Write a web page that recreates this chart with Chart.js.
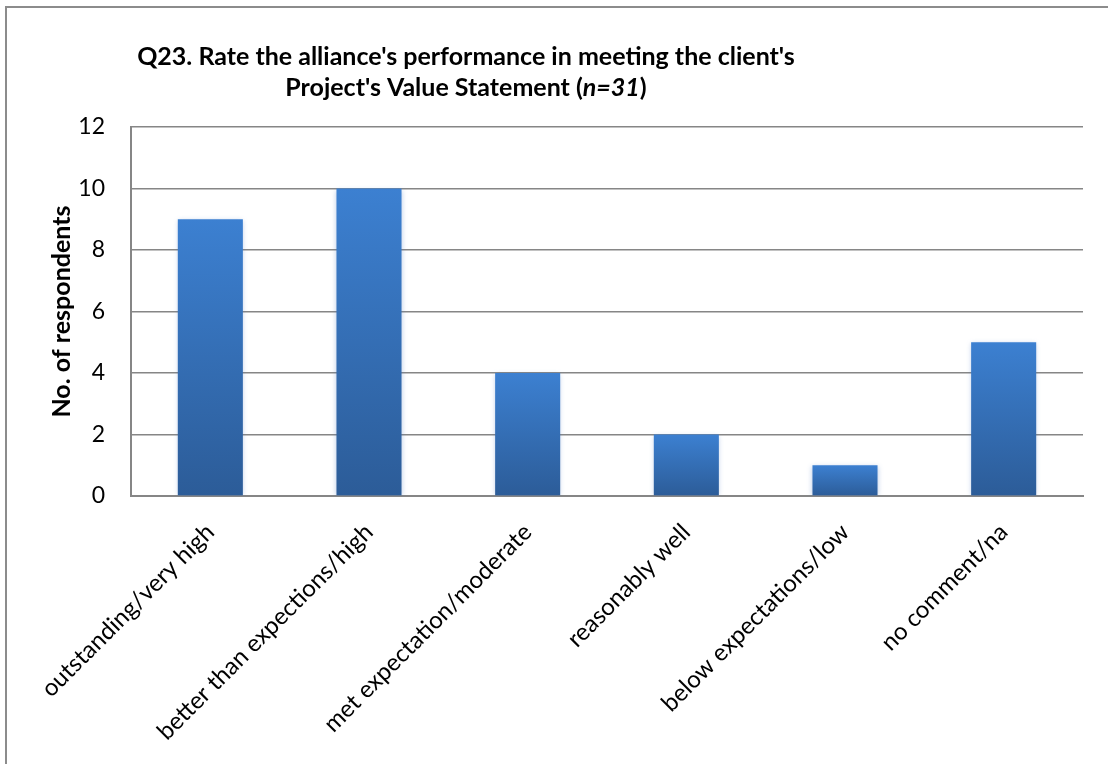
<!DOCTYPE html>
<html>
<head>
<meta charset="utf-8">
<script src="https://cdn.jsdelivr.net/npm/chart.js@4/dist/chart.umd.min.js"></script>
<style>
  html, body { margin: 0; padding: 0; background: #ffffff; }
  #wrap { position: relative; width: 1108px; height: 764px; }
  #frame { position: absolute; left: 5px; top: 6px; width: 1200px; height: 900px;
           border: 2px solid #8c8c8c; box-sizing: border-box; pointer-events: none; }
  canvas { position: absolute; left: 0; top: 0; }
</style>
</head>
<body>
<div id="wrap">
  <canvas id="chart" width="1108" height="764"></canvas>
  <div id="frame"></div>
</div>
<script>
// Survey responses: number of respondents per rating
const categories = [
  'outstanding/very high',
  'better than expections/high',
  'met expectation/moderate',
  'reasonably well',
  'below expectations/low',
  'no comment/na'
];
const respondents = [9, 10, 4, 2, 1, 5];
const yTicks = [0, 2, 4, 6, 8, 10, 12];

const titleLine1 = "Q23. Rate the alliance's performance in meeting the client's";
const titleLine2 = ["Project's Value Statement (", "n=31", ")"];
const yAxisTitle = 'No. of respondents';

const FONT = 'Lato, "Open Sans", sans-serif';

// Two-line title with an italic sample size
const titlePlugin = {
  id: 'surveyTitle',
  afterDraw(chart) {
    const ctx = chart.ctx;
    ctx.save();
    ctx.fillStyle = '#000';
    ctx.textBaseline = 'middle';
    const cx = 466;
    ctx.font = 'bold 25px ' + FONT;
    ctx.textAlign = 'center';
    ctx.fillText(titleLine1, cx, 57);
    // second line: measure pieces, then draw left to right
    const fonts = ['bold 25px ' + FONT, 'italic bold 25px ' + FONT, 'bold 25px ' + FONT];
    const widths = titleLine2.map((t, i) => { ctx.font = fonts[i]; return ctx.measureText(t).width; });
    let x = cx - widths.reduce((a, b) => a + b, 0) / 2;
    ctx.textAlign = 'left';
    titleLine2.forEach((t, i) => { ctx.font = fonts[i]; ctx.fillText(t, x, 88); x += widths[i]; });
    ctx.restore();
  }
};

// Soft glow behind the bars
const barShadow = {
  id: 'barShadow',
  beforeDatasetDraw(chart) {
    const ctx = chart.ctx;
    ctx.save();
    ctx.shadowColor = 'rgba(60,110,190,0.35)';
    ctx.shadowBlur = 5;
    ctx.shadowOffsetX = 0;
    ctx.shadowOffsetY = 1;
  },
  afterDatasetDraw(chart) { chart.ctx.restore(); }
};

function barGradient(context) {
  const chart = context.chart;
  const { ctx, chartArea, scales } = chart;
  if (!chartArea) return '#3570b8';
  const v = context.parsed ? context.parsed.y : respondents[context.dataIndex];
  const top = scales.y.getPixelForValue(v);
  const bottom = scales.y.getPixelForValue(0);
  const g = ctx.createLinearGradient(0, top, 0, bottom);
  g.addColorStop(0, '#3c80d1');
  g.addColorStop(1, '#2c5c98');
  return g;
}

new Chart(document.getElementById('chart'), {
  type: 'bar',
  data: {
    labels: categories,
    datasets: [{
      data: respondents,
      backgroundColor: barGradient,
      borderWidth: 0,
      categoryPercentage: 1,
      barPercentage: 0.41
    }]
  },
  options: {
    responsive: false,
    animation: false,
    devicePixelRatio: 1,
    layout: { padding: { top: 127, right: 25, left: 0, bottom: 0 } },
    plugins: { legend: { display: false }, tooltip: { enabled: false }, title: { display: false } },
    scales: {
      x: {
        grid: { display: false, drawTicks: false },
        border: { display: true, color: '#868686', width: 2 },
        ticks: {
          color: '#000',
          font: { family: FONT, size: 24 },
          minRotation: 45, maxRotation: 45,
          padding: 22,
          autoSkip: false
        },
        afterFit(scale) { scale.height = 764 - 496; }
      },
      y: {
        min: 0, max: 12,
        afterBuildTicks(scale) { scale.ticks = yTicks.map(v => ({ value: v })); },
        grid: { color: '#868686', lineWidth: 1.5, drawTicks: false },
        border: { display: true, color: '#868686', width: 2 },
        ticks: {
          color: '#000',
          font: { family: FONT, size: 23 },
          padding: 26
        },
        title: {
          display: true,
          text: yAxisTitle,
          color: '#000',
          font: { family: FONT, size: 25, weight: 'bold' },
          padding: { top: 47, bottom: 0 }
        },
        afterFit(scale) { scale.width = 131; }
      }
    }
  },
  plugins: [titlePlugin, barShadow]
});
</script>
</body>
</html>
